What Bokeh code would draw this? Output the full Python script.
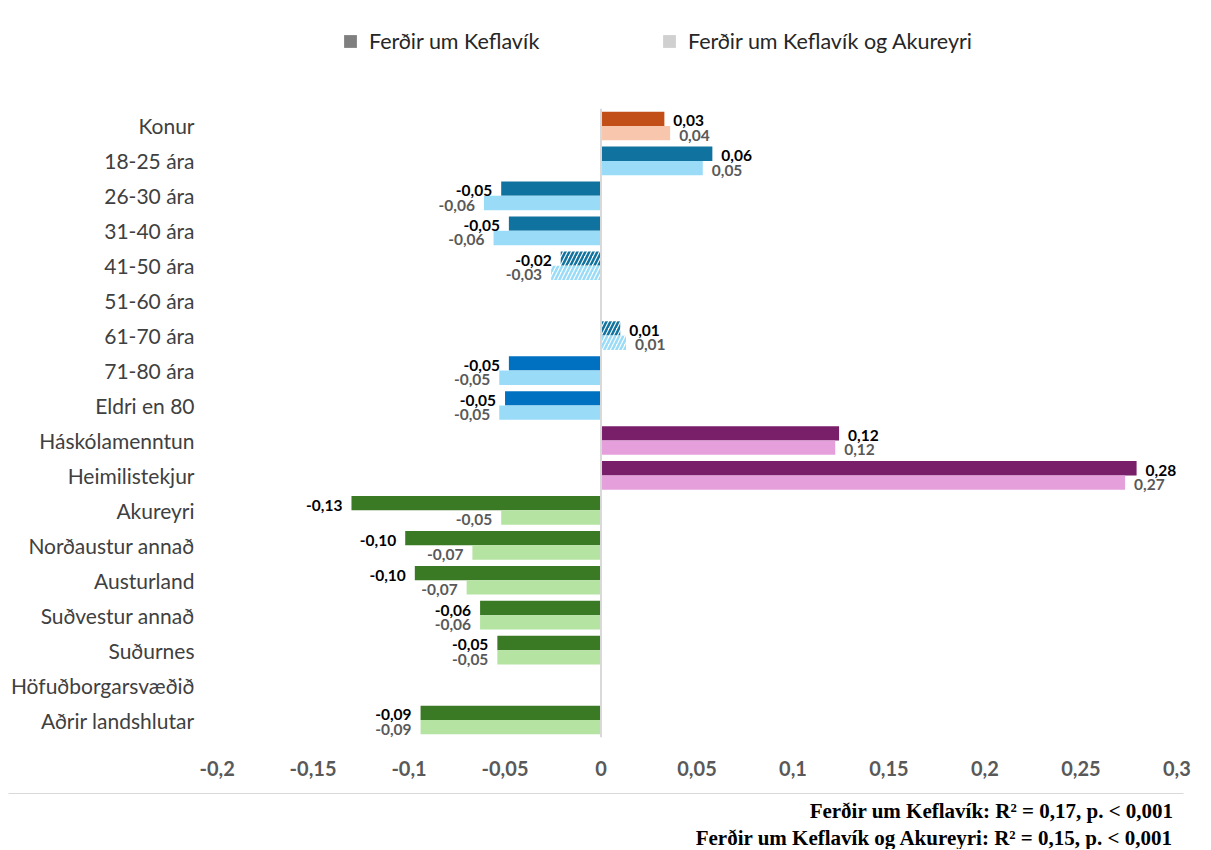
from bokeh.plotting import figure
from bokeh.layouts import column
from bokeh.models import (ColumnDataSource, FactorRange, Range1d, Span, Label, Legend,
                          LegendItem, FixedTicker)
from bokeh.transform import dodge
from bokeh.core.properties import value
from bokeh.embed import file_html
from bokeh.resources import INLINE

# ---------------- data ----------------
categories = ["Konur", "18-25 ára", "26-30 ára", "31-40 ára", "41-50 ára", "51-60 ára",
              "61-70 ára", "71-80 ára", "Eldri en 80", "Háskólamenntun", "Heimilistekjur",
              "Akureyri", "Norðaustur annað", "Austurland", "Suðvestur annað", "Suðurnes",
              "Höfuðborgarsvæðið", "Aðrir landshlutar"]

keflavik = [0.033, 0.058, -0.052, -0.048, -0.021, None, 0.010, -0.048, -0.050, 0.124, 0.279,
            -0.130, -0.102, -0.097, -0.063, -0.054, None, -0.094]
keflavik_akureyri = [0.036, 0.053, -0.061, -0.056, -0.026, None, 0.013, -0.053, -0.053, 0.122,
                     0.273, -0.052, -0.067, -0.070, -0.063, -0.054, None, -0.094]

# bars drawn with hatching (not significant)
hatched = [False, False, False, False, True, False, True, False, False, False, False,
           False, False, False, False, False, False, False]

series_names = ["Ferðir um Keflavík", "Ferðir um Keflavík og Akureyri"]

x_ticks = [-0.2, -0.15, -0.1, -0.05, 0, 0.05, 0.1, 0.15, 0.2, 0.25, 0.3]
x_tick_labels = ["-0,2", "-0,15", "-0,1", "-0,05", "0", "0,05", "0,1", "0,15", "0,2", "0,25", "0,3"]

notes = ["Ferðir um Keflavík: R² = 0,17, p. < 0,001",
         "Ferðir um Keflavík og Akureyri: R² = 0,15, p. < 0,001"]

# ---------------- styles ----------------
ORANGE_D, ORANGE_L = "#C24F17", "#F8C6AD"
TEAL_D, BLUE_L = "#10729E", "#9ADCF8"
BLUE_D = "#0070C0"
PURPLE_D, PURPLE_L = "#791F6A", "#E5A0DC"
GREEN_D, GREEN_L = "#3A7A24", "#B4E3A2"

dark_colors = [ORANGE_D] + [TEAL_D] * 6 + [BLUE_D] * 2 + [PURPLE_D] * 2 + [GREEN_D] * 7
light_colors = [ORANGE_L] + [BLUE_L] * 8 + [PURPLE_L] * 2 + [GREEN_L] * 7

W = 1205


def fmt(v):
    return f"{v:.2f}".replace(".", ",")


def make_source(vals, colors):
    d = dict(cat=[], val=[], color=[], fill=[], hatch=[], label=[], align=[], xoff=[])
    for i, v in enumerate(vals):
        if v is None:
            continue
        d["cat"].append(categories[i])
        d["val"].append(v)
        d["color"].append(colors[i])
        d["fill"].append("#FFFFFF" if hatched[i] else colors[i])
        d["hatch"].append("/" if hatched[i] else " ")
        d["label"].append(fmt(v))
        d["align"].append("left" if v >= 0 else "right")
        d["xoff"].append(9 if v >= 0 else -9)
    return ColumnDataSource(d)


def bare(fig):
    fig.axis.visible = False
    fig.xgrid.visible = False
    fig.ygrid.visible = False
    fig.outline_line_color = None


# ---------------- top: legend ----------------
TOP_H = 80
top = figure(width=W, height=TOP_H, x_range=Range1d(0, W), y_range=Range1d(0, TOP_H),
             min_border=0, output_backend="svg", toolbar_location=None)
top.frame_align = False
bare(top)
# swatch renderers (their bars sit outside the visible range; only the legend shows them)
hidden = ColumnDataSource(dict(y=[-1000], r=[-1000]))
r1 = top.hbar(y="y", left=-1001, right="r", height=1, source=hidden, fill_color="#7F7F7F",
              line_color=None)
r2 = top.hbar(y="y", left=-1001, right="r", height=1, source=hidden, fill_color="#D0D0D0",
              line_color=None)
for rend, name, lx in [(r1, series_names[0], 342), (r2, series_names[1], 661)]:
    leg = Legend(items=[LegendItem(label=name, renderers=[rend])], location=(lx, 26),
                 orientation="horizontal", padding=0, margin=0, border_line_color=None,
                 background_fill_alpha=0, glyph_width=16, glyph_height=16, label_height=20,
                 label_standoff=11, label_text_font="Lato", label_text_font_size="21.5px",
                 label_text_color="#262626", label_text_baseline="middle")
    top.add_layout(leg)

# ---------------- main chart ----------------
src_d = make_source(keflavik, dark_colors)
src_l = make_source(keflavik_akureyri, light_colors)

p = figure(y_range=FactorRange(factors=list(reversed(categories))),
           x_range=Range1d(-0.205, 0.305),
           frame_width=979, frame_height=629,
           min_border_left=207, min_border_right=W - 207 - 979, min_border_top=108 - TOP_H,
           min_border_bottom=48,
           output_backend="svg", toolbar_location=None)
p.frame_align = False

BAR_H = 0.41
OFF = 0.205

p.hbar(y=dodge("cat", OFF, range=p.y_range), left=0, right="val", height=BAR_H, source=src_d,
       fill_color="fill", line_color=None, hatch_pattern="hatch", hatch_color="color",
       hatch_weight=2.5, hatch_scale=8)
p.hbar(y=dodge("cat", -OFF, range=p.y_range), left=0, right="val", height=BAR_H, source=src_l,
       fill_color="fill", line_color=None, hatch_pattern="hatch", hatch_color="color",
       hatch_weight=2.5, hatch_scale=8)

p.text(x="val", y=dodge("cat", OFF, range=p.y_range), text="label", source=src_d,
       text_align="align", x_offset="xoff", y_offset=2, text_baseline="middle",
       text_font=value("Lato"), text_font_style="bold", text_font_size="15.5px", text_color="#000000")
p.text(x="val", y=dodge("cat", -OFF, range=p.y_range), text="label", source=src_l,
       text_align="align", x_offset="xoff", y_offset=2, text_baseline="middle",
       text_font=value("Lato"), text_font_style="bold", text_font_size="15.5px", text_color="#595959")

p.add_layout(Span(location=0, dimension="height", line_color="#D9D9D9", line_width=2))

p.xgrid.visible = False
p.ygrid.visible = False
p.outline_line_color = None

p.yaxis.axis_line_color = None
p.yaxis.major_tick_line_color = None
p.yaxis.minor_tick_line_color = None
p.yaxis.major_label_text_font = "Lato"
p.yaxis.major_label_text_font_size = "21px"
p.yaxis.major_label_text_color = "#404040"
p.yaxis.major_label_standoff = 7

p.xaxis.ticker = FixedTicker(ticks=x_ticks)
p.xaxis.major_label_overrides = {t: l for t, l in zip(x_ticks, x_tick_labels)}
p.xaxis.axis_line_color = None
p.xaxis.major_tick_line_color = None
p.xaxis.minor_tick_line_color = None
p.xaxis.major_label_text_font = "Lato"
p.xaxis.major_label_text_font_style = "bold"
p.xaxis.major_label_text_font_size = "20px"
p.xaxis.major_label_text_color = "#595959"
p.xaxis.major_label_standoff = 17

# ---------------- bottom: notes ----------------
BOT_H = 64
bot = figure(width=W, height=BOT_H, x_range=Range1d(0, W), y_range=Range1d(0, BOT_H),
             min_border=0, output_backend="svg", toolbar_location=None)
bot.frame_align = False
bare(bot)
bot.segment(x0=[8], x1=[1183], y0=[BOT_H - 8], y1=[BOT_H - 8], line_color="#D9D9D9", line_width=1)
for txt, ny in zip(notes, [BOT_H - 25, BOT_H - 52]):
    bot.add_layout(Label(x=1173, y=ny, text=txt, text_align="right", text_baseline="middle",
                         text_font="Liberation Serif", text_font_style="bold",
                         text_font_size="21px", text_color="#000000"))

layout = column(top, p, bot, spacing=0)
open("out.html", "w").write(file_html(layout, INLINE))
